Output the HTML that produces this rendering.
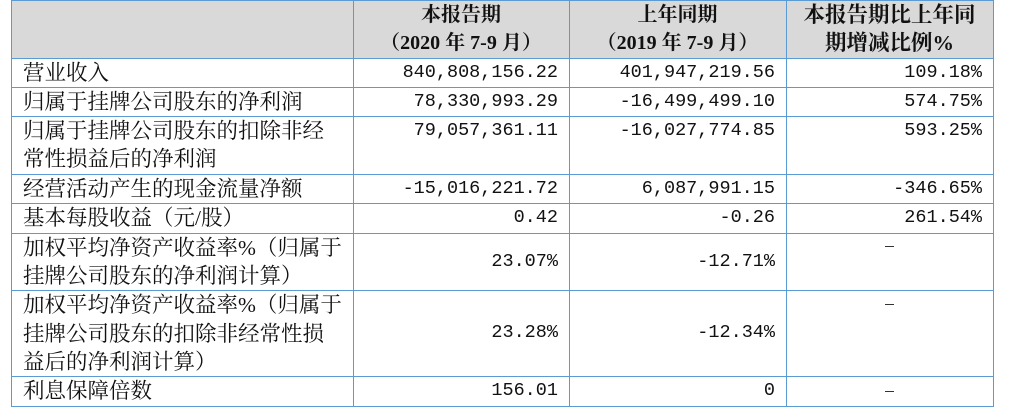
<!DOCTYPE html>
<html><head><meta charset="utf-8"><style>
body{margin:0;background:#fff;width:1011px;height:414px;position:relative;overflow:hidden;font-family:"Liberation Serif","Noto Serif CJK SC",serif;font-size:21.5px;color:#111}
.h{position:absolute;background:#5b9bd5}
.t{position:absolute;line-height:28px;white-space:nowrap}
.r{text-align:right;font-family:"Liberation Mono",monospace;font-size:18.5px}
.c{text-align:center}
.b{font-weight:bold;font-size:20px}
</style></head><body>
<div style="position:absolute;left:11px;top:0;width:982px;height:58px;background:#d9d9d9"></div>
<div class="h" style="left:11px;top:0;width:1px;height:407px"></div>
<div class="h" style="left:353px;top:0;width:1px;height:407px"></div>
<div class="h" style="left:569px;top:0;width:1px;height:407px"></div>
<div class="h" style="left:786px;top:0;width:1px;height:407px"></div>
<div class="h" style="left:993px;top:0;width:1px;height:407px"></div>
<div class="h" style="left:11px;top:0;width:983px;height:1px"></div>
<div class="h" style="left:11px;top:58px;width:983px;height:1px"></div>
<div class="h" style="left:11px;top:87px;width:983px;height:1px"></div>
<div class="h" style="left:11px;top:116px;width:983px;height:1px"></div>
<div class="h" style="left:11px;top:174px;width:983px;height:1px"></div>
<div class="h" style="left:11px;top:203px;width:983px;height:1px"></div>
<div class="h" style="left:11px;top:233px;width:983px;height:1px"></div>
<div class="h" style="left:11px;top:290px;width:983px;height:1px"></div>
<div class="h" style="left:11px;top:376px;width:983px;height:1px"></div>
<div class="h" style="left:11px;top:406px;width:983px;height:1px"></div>
<div class="t c b" style="left:353px;width:216px;top:1px">本报告期<br>（2020 年 7-9 月）</div>
<div class="t c b" style="left:569px;width:217px;top:1px">上年同期<br>（2019 年 7-9 月）</div>
<div class="t c b" style="left:786px;width:207px;top:1px;font-size:21.5px">本报告期比上年同<br>期增减比例%</div>
<div class="t" style="left:23px;top:59px">营业收入</div>
<div class="t" style="left:23px;top:88px">归属于挂牌公司股东的净利润</div>
<div class="t" style="left:23px;top:117px">归属于挂牌公司股东的扣除非经<br>常性损益后的净利润</div>
<div class="t" style="left:23px;top:175px">经营活动产生的现金流量净额</div>
<div class="t" style="left:23px;top:204px">基本每股收益（元/股）</div>
<div class="t" style="left:23px;top:234px">加权平均净资产收益率%（归属于<br>挂牌公司股东的净利润计算）</div>
<div class="t" style="left:23px;top:291px;line-height:28.5px">加权平均净资产收益率%（归属于<br>挂牌公司股东的扣除非经常性损<br>益后的净利润计算）</div>
<div class="t" style="left:23px;top:377px">利息保障倍数</div>
<div class="t r" style="left:353px;width:205px;top:59px">840,808,156.22</div>
<div class="t r" style="left:353px;width:205px;top:88px">78,330,993.29</div>
<div class="t r" style="left:353px;width:205px;top:117px">79,057,361.11</div>
<div class="t r" style="left:353px;width:205px;top:175px">-15,016,221.72</div>
<div class="t r" style="left:353px;width:205px;top:204px">0.42</div>
<div class="t r" style="left:353px;width:205px;top:248px">23.07%</div>
<div class="t r" style="left:353px;width:205px;top:319px">23.28%</div>
<div class="t r" style="left:353px;width:205px;top:377px">156.01</div>
<div class="t r" style="left:569px;width:206px;top:59px">401,947,219.56</div>
<div class="t r" style="left:569px;width:206px;top:88px">-16,499,499.10</div>
<div class="t r" style="left:569px;width:206px;top:117px">-16,027,774.85</div>
<div class="t r" style="left:569px;width:206px;top:175px">6,087,991.15</div>
<div class="t r" style="left:569px;width:206px;top:204px">-0.26</div>
<div class="t r" style="left:569px;width:206px;top:248px">-12.71%</div>
<div class="t r" style="left:569px;width:206px;top:319px">-12.34%</div>
<div class="t r" style="left:569px;width:206px;top:377px">0</div>
<div class="t r" style="left:786px;width:196px;top:59px">109.18%</div>
<div class="t r" style="left:786px;width:196px;top:88px">574.75%</div>
<div class="t r" style="left:786px;width:196px;top:117px">593.25%</div>
<div class="t r" style="left:786px;width:196px;top:175px">-346.65%</div>
<div class="t r" style="left:786px;width:196px;top:204px">261.54%</div>
<div class="h" style="left:885px;top:246px;width:9px;height:1px;background:#333"></div>
<div class="h" style="left:885px;top:304px;width:9px;height:1px;background:#333"></div>
<div class="h" style="left:885px;top:391px;width:9px;height:1px;background:#333"></div>
</body></html>
